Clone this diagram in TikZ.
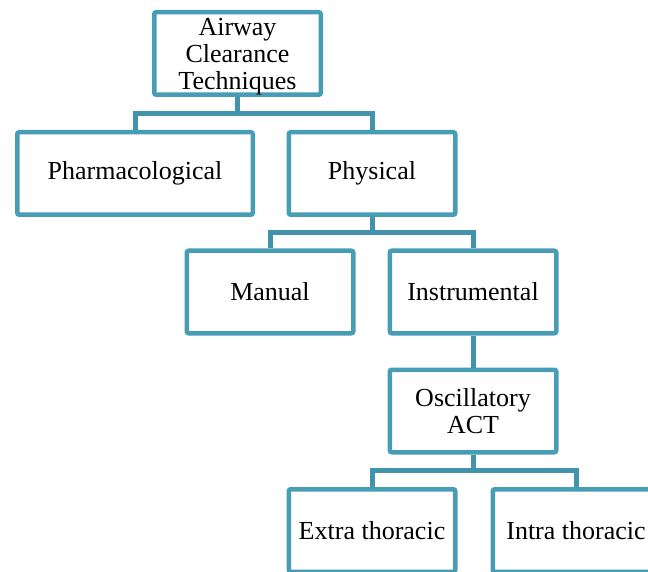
\documentclass[tikz,border=0pt]{standalone}
\usepackage{fontspec}
\setmainfont{Liberation Serif}
\usetikzlibrary{calc}
\definecolor{actblue}{RGB}{72,157,182}
\definecolor{actbar}{RGB}{66,148,172}

\begin{document}
\begin{tikzpicture}[x=1pt, y=-1pt, every node/.style={font=\fontsize{26}{27}\selectfont},
	box/.style={draw=actblue, line width=4.5pt, rounded corners=2pt, fill=white, align=center, minimum width=166.5pt, minimum height=82.5pt, inner sep=2pt},
	bar/.style={draw=actbar, line width=5pt}]
	\useasboundingbox (0,0) rectangle (648,572);
	\clip (0,0) rectangle (648,572);
	% levels of the tree
	\node[box, text height=76pt, text depth=4pt, inner ysep=0pt] (acts) at (237.5,53.5) {Airway\\Clearance\\Techniques};
	\node[box, minimum width=235.5pt] (pharm) at (135,173.5) {Pharmacological};
	\node[box] (phys) at (372,173.5) {Physical};
	\node[box] (manual) at (270,292) {Manual};
	\node[box] (instr) at (473,292) {Instrumental};
	\node[box] (osc) at (473,411) {Oscillatory\\ACT};
	\node[box] (extra) at (372,530.5) {Extra thoracic};
	\node[box] (intra) at (576,530.5) {Intra thoracic};
	% elbow connectors
	\foreach \p/\c in {acts/pharm, acts/phys, phys/manual, phys/instr, osc/extra, osc/intra} {
		\draw[bar] (\p.south) |- ($(\p.south)!0.5!(\c.north)$) -| (\c.north);
	}
	\draw[bar] (instr.south) -- (osc.north);
\end{tikzpicture}
\end{document}
